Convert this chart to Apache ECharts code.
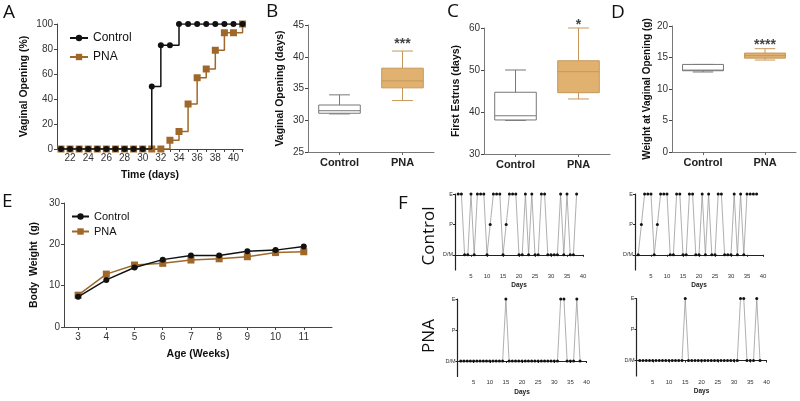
<!DOCTYPE html>
<html><head><meta charset="utf-8">
<script src="https://cdn.jsdelivr.net/npm/echarts@6/dist/echarts.min.js"></script>
<style>html,body{margin:0;padding:0;background:#fff}#c{width:800px;height:401px}</style>
</head><body><div id="c"></div>
<script>
// ---------- Panel A: cumulative vaginal opening (%) ----------
const openDays = [21,22,23,24,25,26,27,28,29,30,31,32,33,34,35,36,37,38,39,40,41];
const openControl = [0,0,0,0,0,0,0,0,0,0,50,83,83,100,100,100,100,100,100,100,100];
const openPNA = [0,0,0,0,0,0,0,0,0,0,0,0,7,14,36,57,64,79,93,93,100];
const openTickLabels = [22,24,26,28,30,32,34,36,38,40];

// ---------- Panels B, C, D: box plots [min, Q1, median, Q3, max] ----------
const boxCategories = ['Control','PNA'];
const openingDaysBox = [[31,31.1,31.5,32.4,34],[33.1,35.1,36.2,38.2,40.9]];
const firstEstrusBox = [[38,38.1,39.1,44.7,50],[43.1,44.6,49.6,52.2,60]];
const weightOpeningBox = [[12.7,12.9,13.0,13.9,13.9],[14.6,14.9,15.3,15.7,16.4]];
const significance = ['***','*','****'];

// ---------- Panel E: body weight ----------
const weeks = [3,4,5,6,7,8,9,10,11];
const weightControl = [7.3,11.4,14.4,16.3,17.3,17.3,18.3,18.6,19.5];
const weightPNA = [7.7,12.8,15.0,15.4,16.2,16.5,17.0,18.0,18.2];

// ---------- Panel F: estrous cycles ----------
const cycleDays = [1,2,3,4,5,6,7,8,9,10,11,12,13,14,15,16,17,18,19,20,21,22,23,24,25,26,27,28,29,30,31,32,33,34,35,36,37,38];
const cycleControl1 = ['E','E','D','D','E','D','E','E','E','D','P','E','E','E','D','P','E','E','E','D','D','E','D','E','D','D','E','E','D','D','D','D','E','D','E','D','D','E'];
const cycleControl2 = ['D','P','E','E','E','D','P','E','E','E','D','D','E','E','D','D','E','E','D','D','E','D','E','D','D','E','E','D','D','D','E','D','E','D','E','E','E','E'];
const cyclePNA1 = ['D','D','D','D','D','D','D','D','D','D','D','D','D','D','E','D','D','D','D','D','D','D','D','D','D','D','D','D','D','D','D','E','E','D','D','D','E','D'];
const cyclePNA2 = ['D','D','D','D','D','D','D','D','D','D','D','D','D','D','E','D','D','D','D','D','D','D','D','D','D','D','D','D','D','D','D','E','E','D','D','D','E','D'];
const stageLevel = {D:0, P:1, E:2};
const stageLabels = ['D/M','P','E'];
const cycleTickLabels = [5,10,15,20,25,30,35,40];

const BLACK = '#111', BROWN = '#9f682a', BOXFILL = '#e0b16f', BOXLINE = '#c6975a';
const FONT = 'Liberation Sans, Arial, sans-serif';
const starDistance = [0, -4, -3];

const chart = echarts.init(document.getElementById('c'), null, {renderer:'canvas'});

function baseAxis(extra){
  return Object.assign({
    axisLine:{show:true, lineStyle:{color:'#444', width:1}},
    axisTick:{show:true, length:3, lineStyle:{color:'#444'}},
    axisLabel:{color:'#333', fontSize:10, fontFamily:FONT, margin:4},
    splitLine:{show:false},
    nameLocation:'middle',
    nameTextStyle:{color:'#111', fontSize:10.5, fontWeight:'bold', fontFamily:FONT}
  }, extra);
}

const grids = [
  {left:57, top:24, width:186, height:125},     // A
  {left:308, top:25, width:126, height:127},    // B
  {left:484, top:28, width:126, height:126},    // C
  {left:672, top:26, width:124, height:126},    // D
  {left:64, top:203, width:268, height:124},    // E
  {left:455, top:194, width:128, height:76},    // F TL
  {left:635, top:194, width:128, height:76},    // F TR
  {left:457.5, top:299, width:129, height:77.5},// F BL
  {left:636.5, top:298.5, width:130, height:77.5} // F BR
];

const catAxis = (g)=>baseAxis({gridIndex:g, type:'category', data:boxCategories,
  axisTick:{show:true, alignWithLabel:true, length:3, lineStyle:{color:'#666'}},
  axisLine:{lineStyle:{color:'#777'}}, axisLabel:{color:'#222', fontSize:11, fontWeight:'bold', fontFamily:FONT, margin:5}});

const xAxes = [
  baseAxis({gridIndex:0, type:'value', min:20.56, max:41.05, name:'Time (days)', nameGap:21,
    axisLabel:{color:'#333', fontSize:10, fontFamily:FONT, margin:4, customValues:openTickLabels},
    axisTick:{show:true, length:3, lineStyle:{color:'#444'}, customValues:openDays}}),
  catAxis(1), catAxis(2), catAxis(3),
  baseAxis({gridIndex:4, type:'value', min:2.5, max:12, name:'Age (Weeks)', nameGap:22,
    axisLabel:{color:'#333', fontSize:10, fontFamily:FONT, margin:5, customValues:weeks},
    axisTick:{show:true, length:3, lineStyle:{color:'#444'}, customValues:weeks}})
];
const yAxes = [
  baseAxis({gridIndex:0, type:'value', min:0, max:100, interval:20, name:'Vaginal Opening (%)', nameGap:27}),
  baseAxis({gridIndex:1, type:'value', min:25, max:45, interval:5, name:'Vaginal Opening (days)', nameGap:22, axisLine:{show:true, lineStyle:{color:'#777'}}}),
  baseAxis({gridIndex:2, type:'value', min:30, max:60, interval:10, name:'First Estrus (days)', nameGap:22, axisLine:{show:true, lineStyle:{color:'#777'}}}),
  baseAxis({gridIndex:3, type:'value', min:0, max:20, interval:5, name:'Weight at Vaginal Opening (g)', nameGap:20, axisLine:{show:true, lineStyle:{color:'#777'}},
    nameTextStyle:{color:'#111', fontSize:10, fontWeight:'bold', fontFamily:FONT}}),
  baseAxis({gridIndex:4, type:'value', min:0, max:30, interval:10, name:'Body  Weight  (g)', nameGap:24})
];
for (let g = 5; g < 9; g++) {
  xAxes.push({gridIndex:g, type:'value', min:0, max:40, name:'Days', nameLocation:'middle', nameGap:12,
    nameTextStyle:{color:'#222', fontSize:6.5, fontWeight:'bold', fontFamily:FONT},
    axisLine:{show:true, lineStyle:{color:'#222', width:1.2}},
    axisTick:{show:true, length:2, lineStyle:{color:'#222'}, customValues:cycleTickLabels},
    axisLabel:{color:'#333', fontSize:6, fontFamily:FONT, margin:3, customValues:cycleTickLabels},
    splitLine:{show:false}});
  yAxes.push({gridIndex:g, type:'value', min:-0.5, max:2,
    axisLine:{show:true, lineStyle:{color:'#222', width:1.2}},
    axisTick:{show:true, length:2, lineStyle:{color:'#222'}, customValues:[0,1,2]},
    axisLabel:{color:'#333', fontSize:5.5, fontFamily:FONT, margin:2, customValues:[0,1,2], formatter:v=>stageLabels[v]},
    splitLine:{show:false}});
}

function boxRender(params, api){
  const idx = api.value(0);
  const vals = [1,2,3,4,5].map(k=>api.value(k));
  const p = vals.map(v=>api.coord([idx, v]));
  const cx = p[0][0];
  const band = api.size([1,0])[0];
  const bw = band*0.66, cw = bw*0.5;
  const fill = idx===0 ? '#fff' : BOXFILL;
  const stroke = idx===0 ? '#777' : BOXLINE;
  const ls = {stroke:stroke, lineWidth:1, fill:null};
  return {type:'group', children:[
    {type:'line', shape:{x1:cx, y1:p[0][1], x2:cx, y2:p[1][1]}, style:ls},
    {type:'line', shape:{x1:cx, y1:p[3][1], x2:cx, y2:p[4][1]}, style:ls},
    {type:'line', shape:{x1:cx-cw/2, y1:p[0][1], x2:cx+cw/2, y2:p[0][1]}, style:ls},
    {type:'line', shape:{x1:cx-cw/2, y1:p[4][1], x2:cx+cw/2, y2:p[4][1]}, style:ls},
    {type:'rect', shape:{x:cx-bw/2, y:p[3][1], width:bw, height:p[1][1]-p[3][1]}, style:{fill:fill, stroke:stroke, lineWidth:1}},
    {type:'line', shape:{x1:cx-bw/2, y1:p[2][1], x2:cx+bw/2, y2:p[2][1]}, style:ls}
  ]};
}

const series = [
  {type:'line', name:'PNA', xAxisIndex:0, yAxisIndex:0, step:'end', data:openDays.map((d,i)=>[d, openPNA[i]]),
    symbol:'rect', symbolSize:7, itemStyle:{color:BROWN}, lineStyle:{color:BROWN, width:1.5}, z:2},
  {type:'line', name:'Control', xAxisIndex:0, yAxisIndex:0, step:'end', data:openDays.map((d,i)=>[d, openControl[i]]),
    symbol:'circle', symbolSize:6, itemStyle:{color:BLACK}, lineStyle:{color:BLACK, width:1.5}, z:3},
  {type:'line', name:'PNA', xAxisIndex:4, yAxisIndex:4, data:weeks.map((w,i)=>[w, weightPNA[i]]),
    symbol:'rect', symbolSize:7, itemStyle:{color:BROWN}, lineStyle:{color:BROWN, width:1.5}, z:2},
  {type:'line', name:'Control', xAxisIndex:4, yAxisIndex:4, data:weeks.map((w,i)=>[w, weightControl[i]]),
    symbol:'circle', symbolSize:6, itemStyle:{color:BLACK}, lineStyle:{color:BLACK, width:1.5}, z:3}
];
[openingDaysBox, firstEstrusBox, weightOpeningBox].forEach((box, k)=>{
  series.push({type:'custom', xAxisIndex:k+1, yAxisIndex:k+1, renderItem:boxRender,
    encode:{x:0, y:[1,2,3,4,5]}, data:boxCategories.map((c,i)=>[i].concat(box[i]))});
  series.push({type:'scatter', xAxisIndex:k+1, yAxisIndex:k+1, symbolSize:0, silent:true, clip:false,
    data:[[1, box[1][4]]],
    label:{show:true, position:'top', distance:starDistance[k], formatter:significance[k], color:'#111', fontSize:14, fontWeight:'bold', fontFamily:FONT}});
});
[cycleControl1, cycleControl2, cyclePNA1, cyclePNA2].forEach((cyc, k)=>{
  series.push({type:'line', xAxisIndex:5+k, yAxisIndex:5+k, data:cycleDays.map((d,i)=>[d, stageLevel[cyc[i]]]),
    symbol:'circle', symbolSize:3, showSymbol:true, itemStyle:{color:'#111'}, lineStyle:{color:'#9a9a9a', width:0.8}});
});

const letterStyle = (t)=>({text:t, fontSize:19, fontFamily:'Open Sans, sans-serif', fill:'#111'});
const rowStyle = (t)=>({text:t, fontSize:17, fontFamily:'Open Sans, sans-serif', fill:'#111', align:'center', verticalAlign:'middle'});
const option = {
  animation:false,
  backgroundColor:'#fff',
  grid:grids,
  xAxis:xAxes,
  yAxis:yAxes,
  legend:[
    {left:64, top:27, orient:'vertical', itemWidth:18, itemHeight:8, itemGap:7, data:['Control','PNA'],
      textStyle:{fontSize:12, color:'#111', fontFamily:FONT}, selectedMode:false},
    {left:66, top:206, orient:'vertical', itemWidth:17, itemHeight:8, itemGap:4, data:['Control','PNA'],
      textStyle:{fontSize:11, color:'#111', fontFamily:FONT}, selectedMode:false}
  ],
  graphic:[
    {type:'text', left:3, top:3, style:letterStyle('A')},
    {type:'text', left:266, top:2, style:letterStyle('B')},
    {type:'text', left:447, top:2, style:letterStyle('C')},
    {type:'text', left:611, top:3, style:letterStyle('D')},
    {type:'text', left:2, top:192, style:letterStyle('E')},
    {type:'text', left:398, top:194, style:letterStyle('F')},
    {type:'text', x:429, y:236, rotation:Math.PI/2, style:rowStyle('Control')},
    {type:'text', x:429, y:336, rotation:Math.PI/2, style:rowStyle('PNA')}
  ],
  series:series
};
chart.setOption(option);
</script>
</body></html>
